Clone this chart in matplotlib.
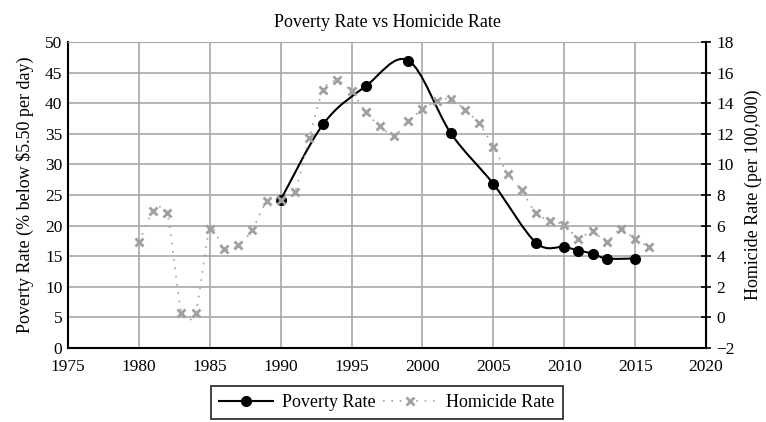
import matplotlib
matplotlib.use('Agg')
import matplotlib.pyplot as plt
from matplotlib.path import Path
from matplotlib.patches import PathPatch
from matplotlib.lines import Line2D

plt.rcParams['font.family'] = ['Liberation Serif', 'DejaVu Serif']

poverty_years = [1990, 1993, 1996, 1999, 2002, 2005, 2008, 2010, 2011, 2012, 2013, 2015]
poverty_rate = [24.2, 36.6, 42.8, 47.0, 35.1, 26.8, 17.2, 16.5, 15.9, 15.4, 14.6, 14.6]

homicide_years = list(range(1980, 2017))
homicide_rate = [4.9, 6.95, 6.8, 0.3, 0.3, 5.8, 4.45, 4.7, 5.7, 7.6, 7.7, 8.2,
                 11.7, 14.9, 15.5, 14.8, 13.4, 12.5, 11.85, 12.85, 13.6, 14.15,
                 14.3, 13.55, 12.7, 11.15, 9.4, 8.3, 6.8, 6.3, 6.05, 5.15,
                 5.65, 4.9, 5.8, 5.1, 4.6]

x_ticks = list(range(1975, 2021, 5))
left_ticks = list(range(0, 51, 5))
right_ticks = list(range(-2, 19, 2))


def smooth_path(xs, ys, k=6.0):
    # bezier through the points, like a spreadsheet "smoothed line"
    pts = list(zip(xs, ys))
    verts = [pts[0]]
    codes = [Path.MOVETO]
    n = len(pts)
    for i in range(n - 1):
        p0 = pts[i - 1] if i > 0 else pts[i]
        p1 = pts[i]
        p2 = pts[i + 1]
        p3 = pts[i + 2] if i + 2 < n else pts[i + 1]
        c1 = (p1[0] + (p2[0] - p0[0]) / k, p1[1] + (p2[1] - p0[1]) / k)
        c2 = (p2[0] - (p3[0] - p1[0]) / k, p2[1] - (p3[1] - p1[1]) / k)
        verts += [c1, c2, p2]
        codes += [Path.CURVE4] * 3
    return Path(verts, codes)


fig = plt.figure(figsize=(7.66, 4.22), dpi=100)
ax = fig.add_axes([0.0888, 0.176, 0.8329, 0.724])
ax2 = ax.twinx()

fs = 13
tick_fs = 12.5
grid_color = '#a8a8a8'
ax.set_xlim(1975, 2020)
ax.set_ylim(0, 50)
ax.set_xticks(x_ticks)
ax.set_yticks(left_ticks)
ax.grid(True, color=grid_color, linewidth=1.2)
ax.set_axisbelow(True)
ax.tick_params(axis='y', length=0, labelsize=tick_fs, pad=4)
ax.tick_params(axis='x', length=0, labelsize=tick_fs, pad=8)
ax.spines['top'].set_color(grid_color)
for s in ['left', 'bottom']:
    ax.spines[s].set_linewidth(1.5)
    ax.spines[s].set_color('black')

ax2.set_ylim(-2, 18)
ax2.set_yticks(right_ticks)
ax2.tick_params(axis='y', length=7, width=1.2, direction='inout', labelsize=tick_fs, pad=4)
ax2.spines['right'].set_linewidth(1.5)
ax2.spines['top'].set_visible(False)
ax2.spines['left'].set_visible(False)
ax2.spines['bottom'].set_visible(False)

# poverty rate, smoothed solid black line
ax.add_patch(PathPatch(smooth_path(poverty_years, poverty_rate), fill=False,
                       edgecolor='black', linewidth=1.5, zorder=3))
ax.plot(poverty_years, poverty_rate, linestyle='none', marker='o',
        markersize=7, color='black', zorder=4)

# homicide rate, smoothed dotted gray line
hom_color = '#a0a0a0'
hom_ls = (0, (1, 4))
ax2.add_patch(PathPatch(smooth_path(homicide_years, homicide_rate, k=9.0), fill=False,
                        edgecolor=hom_color, linewidth=1.2, linestyle=hom_ls,
                        zorder=3))
ax2.plot(homicide_years, homicide_rate, linestyle='none', marker='x',
         markersize=6, markeredgewidth=2, color=hom_color, zorder=4)

ax.set_title('Poverty Rate vs Homicide Rate', fontsize=fs, pad=11)
ax.set_ylabel('Poverty Rate (% below $5.50 per day)', fontsize=fs, labelpad=8)
ax2.set_ylabel('Homicide Rate (per 100,000)', fontsize=fs, labelpad=7)

handles = [
    Line2D([], [], color='black', linewidth=1.5, marker='o', markersize=7),
    Line2D([], [], color=hom_color, linewidth=1.2, linestyle=hom_ls,
           marker='x', markersize=6, markeredgewidth=2),
]
leg = fig.legend(handles, ['Poverty Rate', 'Homicide Rate'], loc='upper center',
                 bbox_to_anchor=(0.505, 0.085), ncol=2, fontsize=fs,
                 frameon=True, fancybox=False, handlelength=3.0,
                 columnspacing=0.4, handletextpad=0.5, borderpad=0.45,
                 borderaxespad=0)
leg.get_frame().set_edgecolor('black')
leg.get_frame().set_linewidth(1.3)

fig.savefig('out.png', dpi=100)
